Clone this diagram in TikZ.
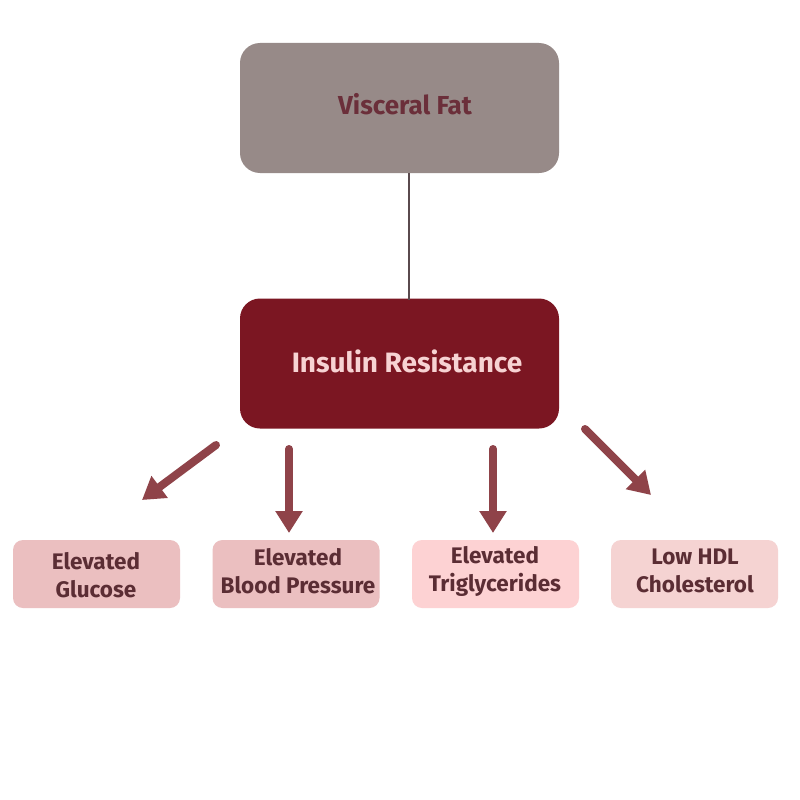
\documentclass[tikz,border=0pt]{standalone}
\usepackage{fontspec}
\setmainfont{Fira Sans}
\usetikzlibrary{arrows.meta}
\definecolor{fatfill}{HTML}{978A88}
\definecolor{fattext}{HTML}{6B2F3A}
\definecolor{irfill}{HTML}{7B1622}
\definecolor{irtext}{HTML}{F7D3D3}
\definecolor{linkc}{HTML}{5A4A4E}
\definecolor{arrowc}{HTML}{8F4349}
\definecolor{boxa}{HTML}{EBBFC0}
\definecolor{boxc}{HTML}{FDD2D3}
\definecolor{boxd}{HTML}{F5D3D2}
\definecolor{smalltext}{HTML}{5B2D34}
\tikzset{
  bigbox/.style={rounded corners=20pt, minimum width=319pt, minimum height=130pt, inner sep=0pt},
  smallbox/.style={rounded corners=10pt, minimum width=167pt, minimum height=68pt, inner sep=0pt},
  smalltxt/.style={align=center, text=smalltext, inner sep=0pt, font=\fontsize{22.5pt}{28pt}\selectfont\bfseries},
  fatarrow/.style={arrowc, line width=8pt, line cap=round, -{Triangle[length=22pt,width=26pt]}}
}
\begin{document}
\begin{tikzpicture}[x=1pt,y=-1pt]
\useasboundingbox[fill=white] (0,0) rectangle (800,800);
\node[bigbox, fill=fatfill] (fat) at (399.5,108) {};
\node[text=fattext, font=\fontsize{26pt}{30pt}\selectfont\bfseries] (fatlabel) at (405,104) {Visceral Fat};
\node[bigbox, fill=irfill] (ir) at (399.5,363.5) {};
\node[text=irtext, font=\fontsize{28pt}{32pt}\selectfont\bfseries] (irlabel) at (407,361) {Insulin Resistance};
\coordinate (lt) at (409,173);
\coordinate (lb) at (409,300);
\draw[linkc, line width=2pt] (lt) -- (lb);
\node[smallbox, fill=boxa] (glu) at (96.5,574) {};
\node[smallbox, fill=boxa] (bp) at (296,574) {};
\node[smallbox, fill=boxc] (tg) at (495.5,574) {};
\node[smallbox, fill=boxd] (hdl) at (694.5,574) {};
\node[smalltxt] (glut) at (96,575) {Elevated\\Glucose};
\node[smalltxt] (bpt) at (298,571) {Elevated\\Blood Pressure};
\node[smalltxt] (tgt) at (495,571) {Elevated\\Triglycerides};
\node[smalltxt] (hdlt) at (695,571) {Low HDL\\Cholesterol};
\coordinate (a1s) at (216,445);
\coordinate (a1e) at (142,500);
\coordinate (a2s) at (289,449);
\coordinate (a2e) at (289,533);
\coordinate (a3s) at (493,449);
\coordinate (a3e) at (493,533);
\coordinate (a4s) at (585,429);
\coordinate (a4e) at (651,495);
\draw[fatarrow] (a1s) -- (a1e);
\draw[fatarrow] (a2s) -- (a2e);
\draw[fatarrow] (a3s) -- (a3e);
\draw[fatarrow] (a4s) -- (a4e);
\end{tikzpicture}
\end{document}
